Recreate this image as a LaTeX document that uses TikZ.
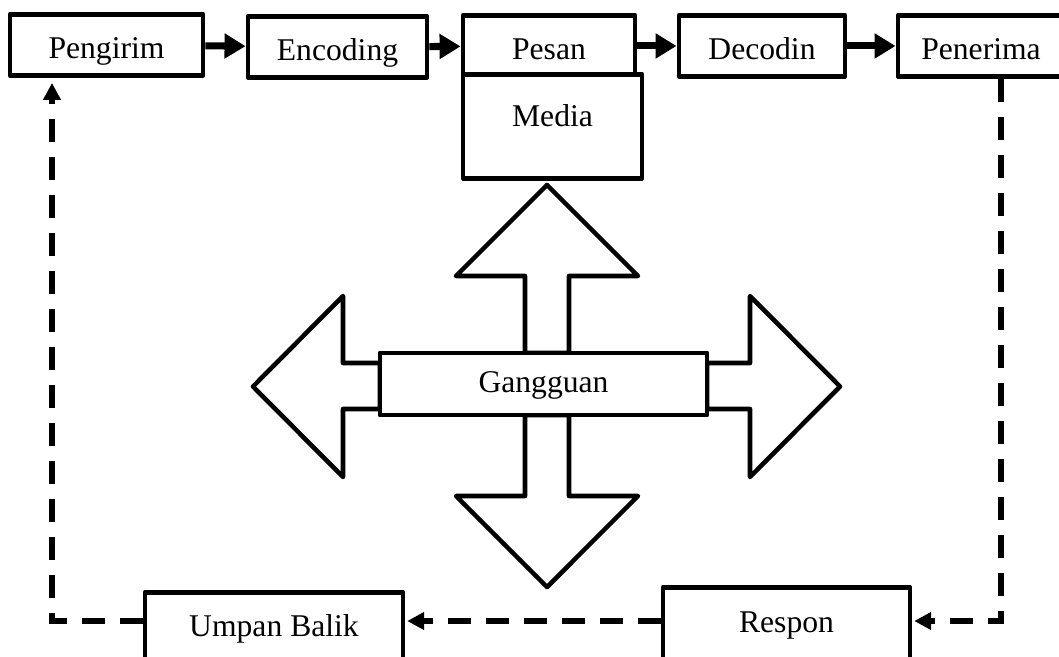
\documentclass[tikz,border=0pt]{standalone}
\usepackage{fontspec}
\setmainfont{Liberation Serif}
\usepackage{tikz}
\usetikzlibrary{positioning,calc,arrows.meta}

\begin{document}
\begin{tikzpicture}[
    box/.style={draw, line width=2.8pt, line join=round, fill=white, inner sep=0pt, font=\fontsize{18}{20}\selectfont},
    toprow/.style={box, anchor=north, text height=0.88cm, text depth=0.34cm},
    flow/.style={line width=4pt, -{Triangle[length=0.42cm,width=0.48cm]}},
    fback/.style={line width=3.2pt, dash pattern=on 0.46cm off 0.3cm, -{Triangle[length=0.34cm,width=0.34cm]}},
    bigarrow/.style={line width=2.6pt, line join=round, fill=white}
]
    \clip (0,0) rectangle (21.18,-13.12);

    % Top row
    \node[toprow, minimum width=3.86cm] (pengirim) at (2.13,-0.24) {Pengirim};
    \node[toprow, minimum width=3.58cm] (encoding) at (6.75,-0.28) {Encoding};
    \node[toprow, minimum width=3.44cm] (pesan) at (10.98,-0.26) {Pesan};
    \node[toprow, minimum width=3.32cm] (decodin) at (15.24,-0.26) {Decodin};
    \node[toprow, minimum width=3.32cm] (penerima) at (19.62,-0.26) {Penerima};
    \node[box, anchor=north, minimum width=3.58cm, text height=1.04cm, text depth=1.04cm] (media) at (11.05,-1.44) {Media};

    \draw[flow] (pengirim) -- (encoding);
    \draw[flow] (encoding) -- (pesan);
    \draw[flow] (pesan) -- (decodin);
    \draw[flow] (decodin) -- (penerima);

    % Gangguan arrows
    \draw[bigarrow] (10.50,-7.06) -- (10.50,-5.52) -- (9.12,-5.52) -- (10.94,-3.70) -- (12.76,-5.52) -- (11.38,-5.52) -- (11.38,-7.06) -- cycle; % up
    \draw[bigarrow] (10.50,-8.30) -- (10.50,-9.92) -- (9.12,-9.92) -- (10.94,-11.74) -- (12.76,-9.92) -- (11.38,-9.92) -- (11.38,-8.30) -- cycle; % down
    \draw[bigarrow] (7.60,-7.26) -- (6.86,-7.26) -- (6.86,-5.92) -- (5.06,-7.73) -- (6.86,-9.54) -- (6.86,-8.18) -- (7.60,-8.18) -- cycle; % left
    \draw[bigarrow] (14.14,-7.26) -- (15.00,-7.26) -- (15.00,-5.92) -- (16.80,-7.73) -- (15.00,-9.54) -- (15.00,-8.18) -- (14.14,-8.18) -- cycle; % right
    \node[box, minimum width=6.54cm, text height=0.78cm, text depth=0.46cm] (gangguan) at (10.87,-7.68) {Gangguan};

    % Bottom row
    \node[box, anchor=north, minimum width=5.16cm, text height=0.88cm, text depth=0.6cm] (umpan) at (5.48,-11.80) {Umpan Balik};
    \node[box, anchor=north, minimum width=4.94cm, text height=0.9cm, text depth=0.6cm] (respon) at (15.73,-11.70) {Respon};

    % Feedback
    \coordinate (fbL) at (1.04,-12.42);
    \coordinate (fbR) at (20.02,-12.42);
    \draw[fback, shorten >=1pt] (penerima.south -| fbR) -- (fbR) -- (respon.east |- fbR);
    \draw[fback, shorten >=1pt] (respon.west |- fbR) -- (umpan.east |- fbR);
    \draw[fback, shorten >=0.1cm] (umpan.west |- fbL) -- (fbL) -- (pengirim.south -| fbL);

\end{tikzpicture}
\end{document}
